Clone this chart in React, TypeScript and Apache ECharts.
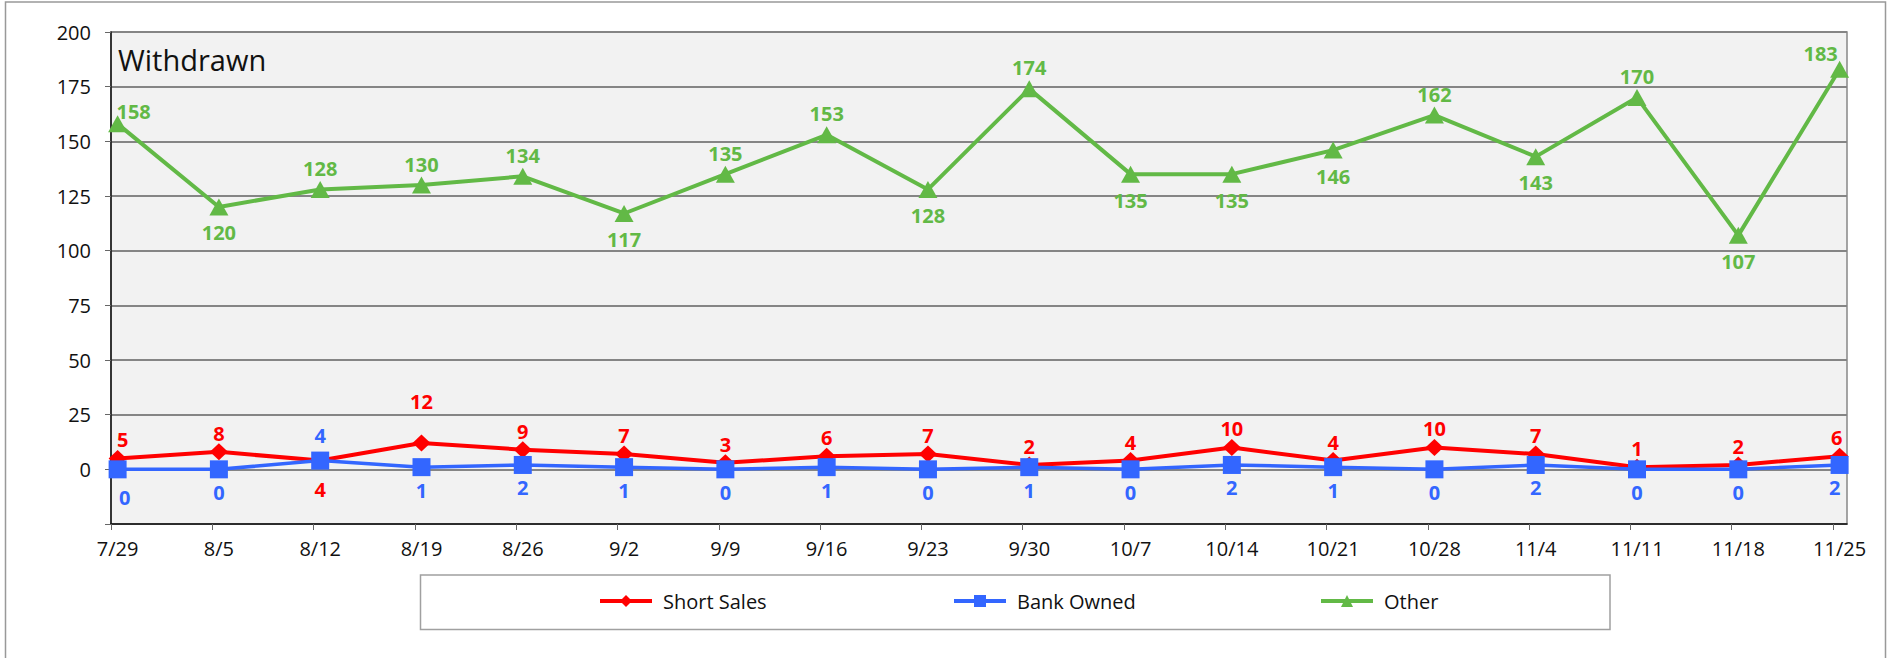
import React, { useEffect, useRef } from "react";
import * as echarts from "echarts";

const categories = ["7/29", "8/5", "8/12", "8/19", "8/26", "9/2", "9/9", "9/16", "9/23", "9/30", "10/7", "10/14", "10/21", "10/28", "11/4", "11/11", "11/18", "11/25"];
const shortSales = [5, 8, 4, 12, 9, 7, 3, 6, 7, 2, 4, 10, 4, 10, 7, 1, 2, 6];
const bankOwned = [0, 0, 4, 1, 2, 1, 0, 1, 0, 1, 0, 2, 1, 0, 2, 0, 0, 2];
const other = [158, 120, 128, 130, 134, 117, 135, 153, 128, 174, 135, 135, 146, 162, 143, 170, 107, 183];
const seriesNames = ["Short Sales", "Bank Owned", "Other"];
const chartTitle = "Withdrawn";
const yMin = -25;
const yMax = 200;
const yStep = 25;

// label placement (t = above, b = below) for each point
const shortSalesLabelPos = "tttttttttttttttttt".split("").map((c, i) => (i === 2 ? "b" : c));
const bankOwnedLabelPos = "bbbbbbbbbbbbbbbbbb".split("").map((c, i) => (i === 2 ? "t" : c));
const otherLabelPos = ["t", "b", "t", "t", "t", "b", "t", "t", "b", "t", "b", "b", "b", "t", "b", "t", "b", "t"];

const RED = "#ff0000";
const BLUE = "#3366ff";
const GREEN = "#62b946";
const FONT = "'Open Sans', 'DejaVu Sans', sans-serif";

const X_SHIFT = 0.0652;

type Off = Record<number, [number, number]>;

function buildData(values: number[], pos: string[], dTop: number, dBottom: number, offsets: Off) {
  return values.map((v, i) => {
    const below = pos[i] === "b";
    const label: any = {
      position: below ? "bottom" : "top",
      distance: below ? dBottom : dTop,
    };
    if (offsets[i]) label.offset = offsets[i];
    return { value: [i, v], label };
  });
}

export default function App() {
  const ref = useRef<HTMLDivElement>(null);

  useEffect(() => {
    document.body.style.margin = "0";
    if (!ref.current) return;
    const chart = echarts.init(ref.current, undefined, { renderer: "svg" });

    const labelBase = (color: string) => ({
      show: true,
      color,
      fontFamily: FONT,
      fontWeight: "bold" as const,
      fontSize: 20,
      formatter: (p: any) => String(p.value[1]),
    });

    const legendLefts = [598, 952, 1319];

    const option: any = {
      animation: false,
      backgroundColor: "#ffffff",
      textStyle: { fontFamily: FONT },
      title: {
        text: chartTitle,
        left: 118,
        top: 45,
        padding: 0,
        textStyle: { fontSize: 29, fontWeight: 500, fontFamily: FONT, color: "#111" },
      },
      grid: {
        left: 111,
        top: 32,
        width: 1736,
        height: 492,
        show: true,
        backgroundColor: "#f2f2f2",
        borderColor: "#888888",
        borderWidth: 1.5,
      },
      legend: seriesNames.map((n, i) => ({
        data: [n],
        left: legendLefts[i],
        top: 591,
        padding: 0,
        itemWidth: 52,
        itemHeight: 15,
        lineStyle: { width: 4 },
        textStyle: { fontSize: 20, fontWeight: 500, fontFamily: FONT, color: "#111", padding: [0, 0, 0, 6] },
      })),
      xAxis: {
        type: "value",
        min: -X_SHIFT,
        max: 17 + 0.073,
        axisLine: { show: true, onZero: false, lineStyle: { color: "#111", width: 1.5 } },
        axisTick: {
          show: true,
          length: 6,
          lineStyle: { color: "#666" },
          customValues: categories.map((_, i) => i - X_SHIFT),
        },
        axisLabel: {
          customValues: categories.map((_, i) => i),
          formatter: (v: number) => categories[Math.round(v)] ?? "",
          fontSize: 20,
          fontWeight: 500,
          color: "#111",
          fontFamily: FONT,
          margin: 14,
        },
        splitLine: { show: false },
      },
      yAxis: {
        type: "value",
        min: yMin,
        max: yMax,
        interval: yStep,
        axisLine: { show: true, onZero: false, lineStyle: { color: "#111", width: 1.5 } },
        axisTick: { show: true, length: 6, lineStyle: { color: "#666" } },
        axisLabel: {
          formatter: (v: number) => (v === yMin ? "" : String(v)),
          fontSize: 20,
          fontWeight: 500,
          color: "#111",
          fontFamily: FONT,
          margin: 20,
        },
        splitLine: { show: true, lineStyle: { color: "#858585", width: 1.8 } },
      },
      graphic: [
        {
          type: "rect",
          z: -10,
          shape: { x: 5.5, y: 2, width: 1880, height: 720 },
          style: { fill: "transparent", stroke: "#999", lineWidth: 1.5 },
          silent: true,
        },
        {
          type: "rect",
          z: -10,
          shape: { x: 420.5, y: 575, width: 1189.5, height: 54.5 },
          style: { fill: "transparent", stroke: "#a0a0a0", lineWidth: 1.5 },
          silent: true,
        },
      ],
      series: [
        {
          name: seriesNames[0],
          type: "line",
          clip: false,
          symbol: "diamond",
          symbolSize: [18, 17],
          lineStyle: { color: RED, width: 4 },
          itemStyle: { color: RED },
          label: labelBase(RED),
          data: buildData(shortSales, shortSalesLabelPos, 0, 10, { 0: [5, 0], 3: [0, -23], 17: [-3, 0] }),
        },
        {
          name: seriesNames[1],
          type: "line",
          clip: false,
          symbol: "rect",
          symbolSize: 18,
          lineStyle: { color: BLUE, width: 3.5 },
          itemStyle: { color: BLUE },
          label: labelBase(BLUE),
          data: buildData(bankOwned, bankOwnedLabelPos, 6, 4, { 0: [7, 5], 17: [-5, 0] }),
        },
        {
          name: seriesNames[2],
          type: "line",
          clip: false,
          symbol: "triangle",
          symbolSize: [19, 17],
          lineStyle: { color: GREEN, width: 4 },
          itemStyle: { color: GREEN },
          label: labelBase(GREEN),
          data: buildData(other, otherLabelPos, 2.5, 7.5, { 0: [16, 9], 17: [-19, 5] }),
        },
      ],
    };

    chart.setOption(option);
    return () => chart.dispose();
  }, []);

  return <div ref={ref} style={{ width: 1895, height: 658 }} />;
}
